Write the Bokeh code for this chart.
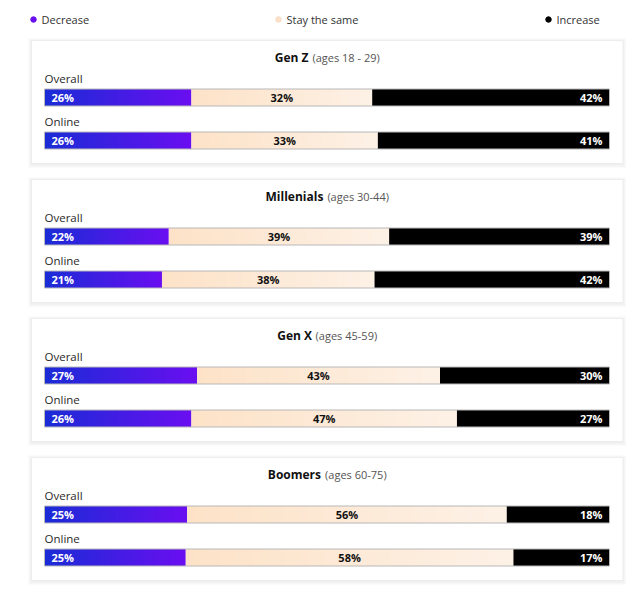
import numpy as np
from bokeh.plotting import figure
from bokeh.models import Range1d, ColumnDataSource
from bokeh.embed import file_html
from bokeh.resources import INLINE
from bokeh.core.properties import value

# ---------------- data ----------------
groups = ["Gen Z", "Millenials", "Gen X", "Boomers"]
age_labels = ["(ages 18 - 29)", "(ages 30-44)", "(ages 45-59)", "(ages 60-75)"]
segments = ["Overall", "Online"]
decrease = [26, 26, 22, 21, 27, 26, 25, 25]
stay_same = [32, 33, 39, 38, 43, 47, 56, 58]
increase = [42, 41, 39, 42, 30, 27, 18, 17]
legend_labels = ["Decrease", "Stay the same", "Increase"]

# ---------------- layout / style ----------------
FONT = "Open Sans"
W, H = 626, 594
PX = 5.65                     # pixels per percent
X0 = -44 / PX                 # 0% sits 44px inside the figure
BLUE0, BLUE1 = (26, 44, 214), (106, 14, 240)
PEACH0, PEACH1 = (253, 226, 199), (253, 241, 230)
BLACK = "#000000"
BORDER = "#b8b8b8"
PANEL_TOP0, PANEL_STEP, PANEL_H = 40, 139, 123
BAR_H = 17
N_SLICES = 40

p = figure(width=W, height=H, x_range=Range1d(X0, X0 + W / PX),
           y_range=Range1d(H, 0), x_axis_type=None, y_axis_type=None,
           output_backend="svg", toolbar_location=None, min_border=0,
           outline_line_color=None, background_fill_color="white",
           border_fill_color="white")
p.grid.visible = False


def hexc(c):
    return "#%02x%02x%02x" % tuple(int(round(v)) for v in c)


def lerp(c0, c1, t):
    return hexc([a + (b - a) * t for a, b in zip(c0, c1)])


# approximate Open Sans advance widths (em)
CW = {" ": 0.26, "(": 0.296, ")": 0.296, "-": 0.322, "a": 0.556, "e": 0.561,
      "g": 0.497, "s": 0.477, "n": 0.614, "o": 0.6, "r": 0.408, "m": 0.929,
      "l": 0.258, "i": 0.258}
CWB = {" ": 0.26, "G": 0.74, "e": 0.58, "n": 0.65, "Z": 0.58, "M": 0.94,
       "i": 0.31, "l": 0.31, "a": 0.6, "s": 0.5, "X": 0.63, "B": 0.69,
       "o": 0.62, "m": 0.98, "r": 0.45}


def text_w(s, size, bold=False):
    tab = CWB if bold else CW
    return sum(tab.get(ch, 0.572) for ch in s) * size


# ---------------- panels ----------------
pl = (31 - 44) / PX
pr = (622.5 - 44) / PX
ptops = [PANEL_TOP0 + PANEL_STEP * g for g in range(len(groups))]
for k, a in enumerate([0.025, 0.02, 0.015]):
    d = (k + 1) * 1.2
    p.quad(left=[pl - d / PX] * 4, right=[pr + d / PX] * 4,
           top=[t - d + 1 for t in ptops], bottom=[t + PANEL_H + d + 1 for t in ptops],
           fill_color="black", fill_alpha=a, line_color=None)
p.quad(left=[pl] * 4, right=[pr] * 4, top=ptops,
       bottom=[t + PANEL_H for t in ptops], fill_color="white",
       line_color="#ededed", line_width=1)

# ---------------- bars ----------------
sl, sr, st, sb, sc = [], [], [], [], []
bl, br, bt, bb = [], [], [], []
lab_x, lab_y, lab_t, lab_c, lab_a, lab_off = [], [], [], [], [], []
seg_y, seg_t = [], []
for k in range(len(decrease)):
    g, r = divmod(k, 2)
    T = ptops[g]
    yc = T + 57 + 43 * r
    top, bot = yc - BAR_H / 2, yc + BAR_H / 2
    tot = decrease[k] + stay_same[k] + increase[k]
    d_end = 100 * decrease[k] / tot
    s_end = 100 * (decrease[k] + stay_same[k]) / tot
    for (a, b, c0, c1) in [(0, d_end, BLUE0, BLUE1), (d_end, s_end, PEACH0, PEACH1)]:
        for j in range(N_SLICES):
            sl.append(a + (b - a) * j / N_SLICES)
            right = a + (b - a) * (j + 1) / N_SLICES
            if j < N_SLICES - 1:
                right += 1.0 / PX  # overlap by 1px to hide seams
            sr.append(right)
            st.append(top)
            sb.append(bot)
            sc.append(lerp(c0, c1, (j + 0.5) / N_SLICES))
    bl.append(s_end); br.append(100); bt.append(top); bb.append(bot)
    lab_x += [0, (d_end + s_end) / 2, 100]
    lab_y += [yc] * 3
    lab_t += ["%d%%" % decrease[k], "%d%%" % stay_same[k], "%d%%" % increase[k]]
    lab_c += ["white", "#111111", "white"]
    lab_a += ["left", "center", "right"]
    lab_off += [7, 0, -7]
    seg_y.append(T + 38 + 43 * r)
    seg_t.append(segments[r])

p.quad(left=sl, right=sr, top=st, bottom=sb, fill_color=sc, line_color=None)
p.quad(left=bl, right=br, top=bt, bottom=bb, fill_color=BLACK, line_color=None)
# outline of each whole bar
p.quad(left=[0] * len(bt), right=[100] * len(bt), top=bt, bottom=bb,
       fill_color=None, line_color=BORDER, line_width=1)

p.text(x="x", y="y", text="t", text_color="c", text_align="a", x_offset="o",
       source=ColumnDataSource(dict(x=lab_x, y=lab_y, t=lab_t, c=lab_c, a=lab_a, o=lab_off)),
       text_font=value(FONT), text_font_style="bold", text_font_size="11px",
       text_baseline="middle")

p.text(x=[0] * len(seg_y), y=seg_y, text=seg_t, text_color="#2a2a2a",
       text_font=value(FONT), text_font_size="11.5px", text_baseline="middle")

# ---------------- titles ----------------
bx, by, bt_, bo = [], [], [], []
ax_, ay, at, ao = [], [], [], []
for g in range(len(groups)):
    wb = text_w(groups[g], 12, bold=True)
    ws = text_w(age_labels[g], 11)
    gap = 4
    total = wb + gap + ws
    y = ptops[g] + 17
    bx.append(50); by.append(y); bt_.append(groups[g]); bo.append(-total / 2)
    ax_.append(50); ay.append(y); at.append(age_labels[g]); ao.append(-total / 2 + wb + gap)
p.text(x="x", y="y", text="t", x_offset="o",
       source=ColumnDataSource(dict(x=bx, y=by, t=bt_, o=bo)),
       text_font=value(FONT), text_font_style="bold", text_font_size="12px",
       text_color="#111111", text_baseline="middle", text_align="left")
p.text(x="x", y="y", text="t", x_offset="o",
       source=ColumnDataSource(dict(x=ax_, y=ay, t=at, o=ao)),
       text_font=value(FONT), text_font_size="11px",
       text_color="#555555", text_baseline="middle", text_align="left")

# ---------------- legend ----------------
leg_px = [33, 278, 548]
leg_x = [(v - 44) / PX for v in leg_px]
leg_y = [19] * 3
p.scatter(x=leg_x, y=leg_y, size=5.5, marker="circle",
          fill_color=[hexc(BLUE1), hexc(PEACH0), BLACK],
          line_color=[hexc(BLUE1), "#f3dcc6", BLACK])
p.text(x=leg_x, y=leg_y, text=legend_labels, x_offset=8, text_color="#333333",
       text_font=value(FONT), text_font_size="11px", text_baseline="middle")

open("out.html", "w").write(file_html(p, INLINE))
